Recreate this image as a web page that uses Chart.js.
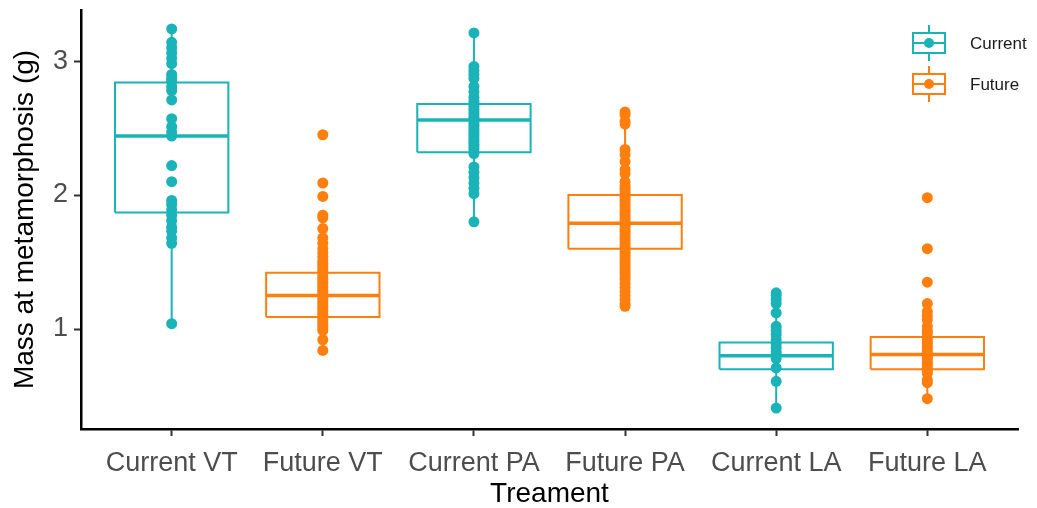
<!DOCTYPE html>
<html>
<head>
<meta charset="utf-8">
<script src="https://cdn.jsdelivr.net/npm/chart.js@4/dist/chart.umd.min.js"></script>
<style>
  html, body { margin: 0; padding: 0; background: #fff; }
  #wrap { width: 1037px; height: 508px; }
</style>
</head>
<body>
<div id="wrap"><canvas id="chart" width="1037" height="508"></canvas></div>
<script>
// Categories and groups
const categories = ['Current VT', 'Future VT', 'Current PA', 'Future PA', 'Current LA', 'Future LA'];
const groupOf = ['Current', 'Future', 'Current', 'Future', 'Current', 'Future'];
const legendGroups = ['Current', 'Future'];
const yTicks = [1, 2, 3];

// Box statistics
const whiskerLow  = [1.04, 0.84, 1.80, 1.17, 0.41, 0.48];
const q1          = [1.87, 1.09, 2.32, 1.60, 0.70, 0.70];
const median      = [2.44, 1.25, 2.56, 1.79, 0.80, 0.81];
const q3          = [2.84, 1.42, 2.68, 2.00, 0.90, 0.94];
const whiskerHigh = [3.24, 1.85, 3.21, 2.60, 1.19, 1.19];

// Individual observations
const currentVT = [3.24, 3.14, 3.10, 3.06, 3.02, 2.98, 2.90, 2.87, 2.85, 2.81, 2.78, 2.71, 2.57, 2.51,
  2.47, 2.44, 2.22, 2.10, 1.96, 1.93, 1.89, 1.85, 1.81, 1.76, 1.73, 1.68, 1.64, 1.04];
const futureVT = [2.45, 2.09, 1.99, 1.85, 1.83, 1.75, 1.68, 1.64, 1.60, 1.57, 1.54, 1.51, 1.49, 1.47,
  1.45, 1.43, 1.41, 1.39, 1.37, 1.35, 1.33, 1.31, 1.29, 1.27, 1.25, 1.23, 1.21, 1.19, 1.17, 1.15,
  1.13, 1.11, 1.09, 1.07, 1.05, 1.03, 1.01, 0.99, 0.92, 0.84];
const currentPA = [3.21, 2.96, 2.93, 2.90, 2.87, 2.81, 2.77, 2.73, 2.70, 2.68, 2.66, 2.64, 2.62, 2.60,
  2.58, 2.56, 2.54, 2.52, 2.50, 2.48, 2.46, 2.44, 2.42, 2.40, 2.38, 2.36, 2.34, 2.31, 2.21, 2.17,
  2.13, 2.09, 2.05, 2.01, 1.80];
const futurePA = [2.62, 2.60, 2.55, 2.53, 2.34, 2.30, 2.25, 2.19, 2.16, 2.10, 2.07, 2.05, 2.03, 2.01,
  1.99, 1.97, 1.95, 1.93, 1.91, 1.89, 1.87, 1.85, 1.83, 1.81, 1.79, 1.78, 1.77, 1.75, 1.73, 1.71,
  1.69, 1.67, 1.65, 1.63, 1.61, 1.59, 1.57, 1.55, 1.53, 1.51, 1.49, 1.47, 1.45, 1.43, 1.41, 1.39,
  1.37, 1.34, 1.31, 1.28, 1.25, 1.22, 1.19, 1.17];
const currentLA = [1.27, 1.25, 1.22, 1.19, 1.12, 1.02, 0.99, 0.96, 0.92, 0.89, 0.86, 0.83, 0.81, 0.78,
  0.71, 0.61, 0.41];
const futureLA = [1.98, 1.60, 1.35, 1.19, 1.13, 1.10, 1.07, 1.02, 0.99, 0.97, 0.94, 0.92, 0.90, 0.88,
  0.86, 0.84, 0.82, 0.81, 0.79, 0.77, 0.75, 0.73, 0.71, 0.69, 0.67, 0.62, 0.60, 0.48];
const observations = [currentVT, futureVT, currentPA, futurePA, currentLA, futureLA];

const colors = { Current: '#19b3b8', Future: '#ff7f0e' };
const FONT = '"Liberation Sans", Arial, sans-serif';
const HALF = 0.375; // half box width in category units

const datasets = [];

// points on top
observations.forEach((vals, i) => {
  datasets.push({
    type: 'scatter',
    label: categories[i],
    data: vals.map(v => ({ x: i + 1, y: v })),
    pointRadius: 5.5,
    pointBackgroundColor: colors[groupOf[i]],
    pointBorderWidth: 0,
    order: 0
  });
});

// boxes, medians, whiskers
function lineSet(points, color, width) {
  return {
    type: 'scatter',
    showLine: true,
    data: points,
    borderColor: color,
    borderWidth: width,
    borderJoinStyle: 'miter',
    pointRadius: 0,
    fill: false,
    order: 1
  };
}

categories.forEach((c, i) => {
  const x = i + 1;
  const col = colors[groupOf[i]];
  datasets.push(lineSet([
    { x: x - HALF, y: q1[i] }, { x: x + HALF, y: q1[i] },
    { x: x + HALF, y: q3[i] }, { x: x - HALF, y: q3[i] },
    { x: x - HALF, y: q1[i] }
  ], col, 2));
  datasets.push(lineSet([{ x: x - HALF, y: median[i] }, { x: x + HALF, y: median[i] }], col, 3.5));
  datasets.push(lineSet([{ x: x, y: whiskerLow[i] }, { x: x, y: q1[i] }], col, 2));
  datasets.push(lineSet([{ x: x, y: q3[i] }, { x: x, y: whiskerHigh[i] }], col, 2));
});

// legend drawn like ggplot's boxplot key
const boxLegend = {
  id: 'boxLegend',
  afterDraw(chart) {
    const ctx = chart.ctx;
    const cx = 929;
    legendGroups.forEach((g, k) => {
      const cy = 43 + k * 41;
      const col = colors[g];
      ctx.save();
      ctx.strokeStyle = col;
      ctx.lineWidth = 2;
      ctx.beginPath();
      ctx.moveTo(cx, cy - 18); ctx.lineTo(cx, cy - 10);
      ctx.moveTo(cx, cy + 10); ctx.lineTo(cx, cy + 18);
      ctx.stroke();
      ctx.fillStyle = '#fff';
      ctx.fillRect(cx - 16, cy - 10, 32, 20);
      ctx.strokeRect(cx - 16, cy - 10, 32, 20);
      ctx.beginPath();
      ctx.moveTo(cx - 16, cy); ctx.lineTo(cx + 16, cy);
      ctx.stroke();
      ctx.fillStyle = col;
      ctx.beginPath();
      ctx.arc(cx, cy, 5, 0, Math.PI * 2);
      ctx.fill();
      ctx.fillStyle = '#1a1a1a';
      ctx.font = '17px ' + FONT;
      ctx.textBaseline = 'middle';
      ctx.textAlign = 'left';
      ctx.fillText(g, 970, cy + 1);
      ctx.restore();
    });
  }
};

new Chart(document.getElementById('chart'), {
  type: 'scatter',
  data: { datasets },
  plugins: [boxLegend],
  options: {
    responsive: false,
    animation: false,
    devicePixelRatio: 1,
    layout: { padding: { top: 10, right: 19, left: 0, bottom: 0 } },
    plugins: {
      legend: { display: false },
      tooltip: { enabled: false }
    },
    scales: {
      x: {
        type: 'linear',
        min: 0.4,
        max: 6.6,
        afterBuildTicks: s => { s.ticks = categories.map((c, i) => ({ value: i + 1 })); },
        afterFit: s => { s.height = 79; s.paddingLeft = 0; s.paddingRight = 0; },
        ticks: {
          autoSkip: false,
          maxRotation: 0,
          padding: 11,
          color: '#4d4d4d',
          font: { family: FONT, size: 27 },
          callback: v => categories[v - 1]
        },
        grid: {
          display: true,
          drawOnChartArea: false,
          drawTicks: true,
          tickLength: 7,
          tickWidth: 2,
          tickColor: '#333'
        },
        border: { display: true, color: '#000', width: 2.5 },
        title: {
          display: true,
          text: 'Treament',
          color: '#000',
          font: { family: FONT, size: 28, lineHeight: 1 },
          padding: { top: 0, bottom: 0 }
        }
      },
      y: {
        min: 0.254,
        max: 3.381,
        afterBuildTicks: s => { s.ticks = yTicks.map(v => ({ value: v })); },
        afterFit: s => { s.width = 81; s.paddingTop = 0; s.paddingBottom = 0; },
        ticks: {
          padding: 6,
          color: '#4d4d4d',
          font: { family: FONT, size: 27 }
        },
        grid: {
          display: true,
          drawOnChartArea: false,
          drawTicks: true,
          tickLength: 7,
          tickWidth: 2,
          tickColor: '#333'
        },
        border: { display: true, color: '#000', width: 2.5 },
        title: {
          display: true,
          text: 'Mass at metamorphosis (g)',
          color: '#000',
          font: { family: FONT, size: 28 },
          padding: { top: 8, bottom: 0 }
        }
      }
    }
  }
});
</script>
</body>
</html>
